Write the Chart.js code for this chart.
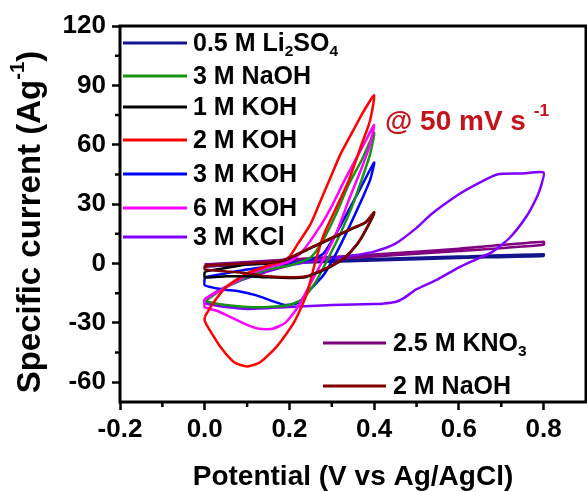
<!DOCTYPE html>
<html>
<head>
<meta charset="utf-8">
<script src="https://cdn.jsdelivr.net/npm/chart.js@4.4.1/dist/chart.umd.min.js"></script>
<style>
html, body { margin: 0; padding: 0; background: #fff; }
#cv { display: block; }
</style>
</head>
<body>
<canvas id="cv" width="587" height="492"></canvas>
<script>
// axis ticks
const xTicks = [-0.2, 0, 0.2, 0.4, 0.6, 0.8];
const yTicks = [-60, -30, 0, 30, 60, 90, 120];
const xMinor = [-0.1, 0.1, 0.3, 0.5, 0.7];
const yMinor = [-45, -15, 15, 45, 75, 105];

// CV loops, [potential (V), current (A/g)], forward sweep then back
const li2so4 = [[0,-0.5],[0.2,1],[0.4,2.3],[0.6,3.5],[0.8,4.7],[0.8,3.8],[0.6,2.8],[0.4,1.5],[0.2,0.3],[0,-1.5]];
const naoh3M = [[0,-19],[0.05,-12],[0.1,-7],[0.15,-3],[0.2,-1],[0.25,3],[0.28,12],[0.31,25],[0.34,40],[0.37,52],[0.4,66],
                [0.39,55],[0.37,42],[0.35,30],[0.32,15],[0.29,2],[0.26,-10],[0.23,-18],[0.2,-21],[0.15,-22],[0.1,-22],[0.05,-21],[0.02,-20],[0,-19]];
const koh1M = [[0,-4],[0.1,-0.5],[0.15,0.2],[0.19,1.7],[0.25,7.7],[0.3,12.7],[0.35,17.7],[0.38,20.7],[0.4,25.5],
               [0.38,16.7],[0.36,9.7],[0.33,2.7],[0.3,-1.3],[0.27,-4.3],[0.24,-6.8],[0.2,-7.3],[0.15,-7],[0.1,-6.5],[0.05,-6.5],[0,-7],[0,-4]];
const koh2M = [[0,-27],[0.02,-20],[0.05,-12],[0.1,-5],[0.15,-1],[0.18,1],[0.2,3.5],[0.22,10],[0.25,20],[0.28,35],[0.3,45],[0.32,55],[0.35,67],[0.37,75],[0.4,85],
               [0.39,72],[0.37,60],[0.34,42],[0.31,28],[0.28,14],[0.26,0],[0.24,-16],[0.21,-30],[0.17,-42],[0.13,-50],[0.1,-52],[0.07,-50],[0.04,-43],[0.01,-33],[0,-29],[0,-27]];
const koh3M = [[0,-7],[0.05,-5],[0.1,-3],[0.15,-1.5],[0.2,0],[0.25,2],[0.28,5],[0.31,15],[0.34,27],[0.37,39],[0.4,51],
               [0.39,42],[0.37,32],[0.34,18],[0.31,5],[0.28,-6],[0.25,-13],[0.22,-20],[0.19,-21],[0.16,-19],[0.12,-16],[0.08,-14],[0.04,-13],[0,-11],[0,-7]];
const koh6M = [[0,-18],[0.05,-12],[0.1,-6],[0.15,-2],[0.2,1],[0.23,6],[0.27,18],[0.3,29],[0.33,42],[0.36,54],[0.38,62],[0.4,70],
               [0.39,60],[0.37,48],[0.34,32],[0.31,15],[0.28,2],[0.25,-10],[0.22,-22],[0.19,-30],[0.16,-33],[0.13,-33],[0.1,-31],[0.06,-27],[0.03,-24],[0,-22],[0,-18]];
const kcl3M = [[0,-18],[0.03,-14],[0.08,-9],[0.15,-4],[0.2,-1],[0.25,1],[0.3,2.5],[0.35,4],[0.4,6],[0.45,10],[0.5,18],[0.53,24],[0.56,29],[0.6,35],[0.65,41],[0.69,45],[0.75,45.5],[0.8,46],
               [0.795,40],[0.785,34],[0.76,24],[0.72,13],[0.68,6],[0.64,2],[0.6,-2],[0.55,-8],[0.5,-13],[0.47,-17.5],[0.45,-19.5],[0.42,-20.3],[0.4,-20.5],[0.3,-21],[0.2,-22],[0.1,-23],[0.05,-22],[0.02,-21],[0,-20],[0,-18]];
const kno3 = [[0,-0.5],[0.2,2],[0.4,4.5],[0.6,7.5],[0.8,11],[0.8,9.5],[0.6,6.3],[0.4,3.5],[0.2,1],[0,-1.5]];
const naoh2M = [[0,-1],[0.1,0],[0.15,0.5],[0.19,2],[0.25,8],[0.3,13],[0.35,18],[0.38,21],[0.4,26],
                [0.38,17],[0.36,10],[0.33,3],[0.3,-1],[0.27,-4],[0.24,-6.5],[0.2,-7],[0.15,-6.5],[0.1,-5],[0.05,-4],[0,-3],[0,-1]];

// legend text pieces: [text, 'n' normal | 'sub' subscript]
const legendTop = [
    { color: '#14148c', parts: [['0.5 M Li', 'n'], ['2', 'sub'], ['SO', 'n'], ['4', 'sub']] },
    { color: '#179317', parts: [['3 M NaOH', 'n']] },
    { color: '#000000', parts: [['1 M KOH', 'n']] },
    { color: '#ff0000', parts: [['2 M KOH', 'n']] },
    { color: '#0000ff', parts: [['3 M KOH', 'n']] },
    { color: '#ff00ff', parts: [['6 M KOH', 'n']] },
    { color: '#8000ff', parts: [['3 M KCl', 'n']] }
];
const legendBottom = [
    { color: '#800080', parts: [['2.5 M KNO', 'n'], ['3', 'sub']] },
    { color: '#800000', parts: [['2 M NaOH', 'n']] }
];

const FONT = '"Liberation Sans", Arial, sans-serif';

function toPts(arr) {
    return arr.map(p => ({ x: p[0], y: p[1] }));
}

function series(label, arr, color) {
    return {
        label: label,
        data: toPts(arr),
        showLine: true,
        borderColor: color,
        backgroundColor: color,
        borderWidth: 2.5,
        pointRadius: 0,
        tension: 0.2,
        fill: false
    };
}

// draw a run of text parts (normal / sub / sup), returns width
function drawParts(ctx, parts, x, y, size, align) {
    const widths = parts.map(p => {
        const s = p[1] === 'n' ? size : size * 0.62;
        ctx.font = 'bold ' + s + 'px ' + FONT;
        return ctx.measureText(p[0]).width;
    });
    const total = widths.reduce((a, b) => a + b, 0);
    let cx = align === 'center' ? x - total / 2 : x;
    parts.forEach((p, i) => {
        const s = p[1] === 'n' ? size : size * 0.62;
        ctx.font = 'bold ' + s + 'px ' + FONT;
        let dy = 0;
        if (p[1] === 'sub') dy = size * 0.3;
        if (p[1] === 'sup') dy = -size * 0.38;
        ctx.fillText(p[0], cx, y + dy);
        cx += widths[i];
    });
    return total;
}

const decor = {
    id: 'decor',
    afterDatasetsDraw(chart) {
        const ctx = chart.ctx;
        const a = chart.chartArea;
        const xs = chart.scales.x, ys = chart.scales.y;
        ctx.save();

        // frame
        ctx.strokeStyle = '#000';
        ctx.lineWidth = 3;
        ctx.strokeRect(a.left, a.top, a.right - a.left, a.bottom - a.top);

        // minor ticks
        ctx.lineWidth = 2.5;
        ctx.beginPath();
        xMinor.forEach(v => {
            const px = xs.getPixelForValue(v);
            ctx.moveTo(px, a.bottom);
            ctx.lineTo(px, a.bottom + 5);
        });
        yMinor.forEach(v => {
            const py = ys.getPixelForValue(v);
            ctx.moveTo(a.left, py);
            ctx.lineTo(a.left - 5, py);
        });
        ctx.stroke();

        // legends
        ctx.fillStyle = '#000';
        ctx.textBaseline = 'middle';
        ctx.textAlign = 'left';
        const topY = [43, 76, 107, 140, 174, 208, 237];
        legendTop.forEach((e, i) => {
            ctx.strokeStyle = e.color;
            ctx.lineWidth = 3;
            ctx.beginPath();
            ctx.moveTo(123, topY[i]);
            ctx.lineTo(187, topY[i]);
            ctx.stroke();
            drawParts(ctx, e.parts, 193, topY[i] + 1, 25, 'left');
        });
        const botY = [343, 386];
        legendBottom.forEach((e, i) => {
            ctx.strokeStyle = e.color;
            ctx.lineWidth = 3;
            ctx.beginPath();
            ctx.moveTo(323, botY[i]);
            ctx.lineTo(386, botY[i]);
            ctx.stroke();
            drawParts(ctx, e.parts, 393, botY[i] + 1, 25, 'left');
        });

        // scan rate note
        ctx.fillStyle = '#c3141c';
        drawParts(ctx, [['@ 50 mV s ', 'n'], ['-1', 'sup']], 385, 122, 28, 'left');

        // axis titles
        ctx.fillStyle = '#000';
        ctx.textBaseline = 'middle';
        drawParts(ctx, [['Potential (V vs Ag/AgCl)', 'n']], 353, 477, 28, 'center');
        ctx.translate(31, 222);
        ctx.rotate(-Math.PI / 2);
        drawParts(ctx, [['Specific current (Ag', 'n'], ['-1', 'sup'], [')', 'n']], 0, 0, 33, 'center');

        ctx.restore();
    }
};

const tickFont = { family: FONT, size: 26, weight: 'bold' };

new Chart(document.getElementById('cv'), {
    type: 'scatter',
    data: {
        datasets: [
            series('2 M NaOH', naoh2M, '#800000'),
            series('1 M KOH', koh1M, '#000000'),
            series('2 M KOH', koh2M, '#ff0000'),
            series('6 M KOH', koh6M, '#ff00ff'),
            series('3 M NaOH', naoh3M, '#179317'),
            series('3 M KOH', koh3M, '#0000ff'),
            series('3 M KCl', kcl3M, '#8000ff'),
            series('2.5 M KNO3', kno3, '#800080'),
            series('0.5 M Li2SO4', li2so4, '#14148c')
        ]
    },
    options: {
        responsive: false,
        animation: false,
        layout: { padding: { top: 26, right: 1, left: 0, bottom: 0 } },
        plugins: {
            legend: { display: false },
            tooltip: { enabled: false }
        },
        scales: {
            x: {
                type: 'linear',
                min: -0.2,
                max: 0.9,
                afterBuildTicks: s => { s.ticks = xTicks.map(v => ({ value: v })); },
                afterFit: s => { s.height = 90; },
                border: { display: false },
                grid: { drawOnChartArea: false, tickLength: 8, tickWidth: 2.5, tickColor: '#000' },
                ticks: { color: '#000', font: tickFont, padding: 4, maxRotation: 0, callback: v => v.toFixed(1) }
            },
            y: {
                type: 'linear',
                min: -70,
                max: 120,
                afterBuildTicks: s => { s.ticks = yTicks.map(v => ({ value: v })); },
                afterFit: s => { s.width = 120; },
                border: { display: false },
                grid: { drawOnChartArea: false, tickLength: 8, tickWidth: 2.5, tickColor: '#000' },
                ticks: { color: '#000', font: tickFont, padding: 6, callback: v => String(v) }
            }
        }
    },
    plugins: [decor]
});
</script>
</body>
</html>
